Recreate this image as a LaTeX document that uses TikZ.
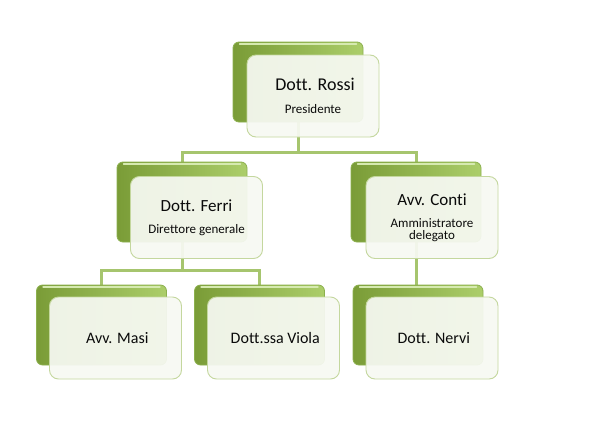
\documentclass[tikz,border=0pt]{standalone}
\usepackage{fontspec}
\setmainfont{Carlito}[Ligatures=NoCommon]
\usetikzlibrary{backgrounds}
\definecolor{gline}{RGB}{166,197,110}
\definecolor{gleft}{RGB}{122,156,55}
\definecolor{gmid}{RGB}{160,196,92}
\definecolor{gright}{RGB}{172,206,106}
\definecolor{ghi}{RGB}{214,234,176}
\definecolor{gdraw}{RGB}{140,176,78}
\definecolor{wfill}{RGB}{247,249,243}
\definecolor{wdraw}{RGB}{196,215,158}
\definecolor{txt}{RGB}{10,10,10}
\tikzset{
  greenbox/.style={rectangle, rounded corners=6pt, minimum width=130pt, minimum height=80pt,
    left color=gleft, middle color=gmid, right color=gright, draw=gdraw, line width=0.8pt, inner sep=0pt},
  highlight/.style={draw=ghi, line width=1.6pt, line cap=round},
  whitebox/.style={rectangle, rounded corners=9pt, minimum width=132pt, minimum height=82pt,
    fill=wfill, fill opacity=0.93, text opacity=1, draw=wdraw, line width=0.9pt, align=center,
    text=txt, inner sep=2pt},
  conn/.style={draw=gline, line width=3pt},
}
\newcommand{\nmfont}[1][17]{\fontsize{#1}{20}\selectfont}
\newcommand{\rlfont}{\fontsize{13}{14.5}\selectfont}
\newcommand{\hilite}[1]{\draw[highlight] ([shift={(7pt,-2.5pt)}]#1.north west) -- ([shift={(-7pt,-2.5pt)}]#1.north east);}
\begin{document}
\begin{tikzpicture}[x=1pt,y=-1pt]
\useasboundingbox (0,0) rectangle (609,431);
% green back boxes
\node[greenbox] (g1) at (298,82) {};
\node[greenbox] (g2) at (182,202) {};
\node[greenbox] (g3) at (416,202) {};
\node[greenbox] (g4) at (101.5,325) {};
\node[greenbox] (g5) at (259.5,325) {};
\node[greenbox] (g6) at (418,325) {};
\foreach \g in {g1,g2,g3,g4,g5,g6} {\hilite{\g}}
% white front boxes
\node[whitebox] (w1) at (313,96) {\nmfont[18] Dott. Rossi\\[11pt]\rlfont Presidente};
\node[whitebox] (w2) at (196.5,217.5) {\nmfont Dott. Ferri\\[10pt]\rlfont Direttore generale};
\node[whitebox] (w3) at (432,217.5) {\nmfont Avv. Conti\\[10pt]\rlfont Amministratore\\\rlfont delegato};
\node[whitebox] (w4) at (115.5,338) {\nmfont[16] Avv. Masi};
\node[whitebox] (w5) at (273.5,338) {\nmfont[16] Dott.ssa Viola};
\node[whitebox] (w6) at (432,338) {\nmfont[16] Dott. Nervi};
% connectors
\coordinate (j1) at (298,152);
\coordinate (j2) at (182,270);
\begin{scope}[on background layer]
\fill[white] (0,0) rectangle (609,431);
\draw[conn] (g1.center) -- (j1) -| (g2.north);
\draw[conn] (j1) -| (g3.north);
\draw[conn] (g2.center) -- (j2) -| (g4.north);
\draw[conn] (j2) -| (g5.north);
\draw[conn] (g3.center) -- (g3.center |- g6.north);
\end{scope}
\end{tikzpicture}
\end{document}
